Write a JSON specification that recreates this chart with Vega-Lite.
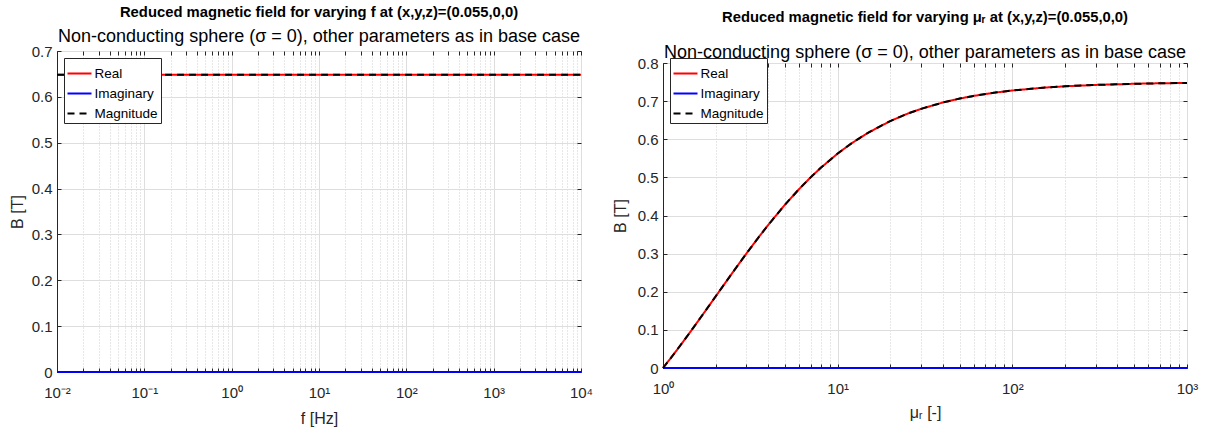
{
  "$schema": "https://vega.github.io/schema/vega-lite/v6.json",
  "padding": {"left": 8, "top": 4, "right": 5, "bottom": 2},
  "background": "white",
  "spacing": 17,
  "bounds": "full",
  "config": {
    "font": "Liberation Sans",
    "view": {"stroke": "#262626", "strokeWidth": 1},
    "axis": {
      "labelFont": "Liberation Sans", "labelFontSize": 15, "labelColor": "#262626",
      "titleFont": "Liberation Sans", "titleFontSize": 16, "titleFontWeight": "normal", "titleColor": "#262626",
      "domainColor": "#262626", "tickColor": "#262626", "gridColor": "#dedede", "gridOpacity": 1
    },
    "legend": {
      "orient": "top-left", "offset": 7, "strokeColor": "#262626", "fillColor": "white", "padding": 2.5,
      "labelFontSize": 13.5, "labelFont": "Liberation Sans", "labelColor": "#000000",
      "symbolType": "stroke", "symbolSize": 576, "symbolStrokeWidth": 2, "rowPadding": -2.5, "labelOffset": 2
    }
  },
  "datasets": {
    "fsweep": [
      {"f": 0.01, "Real": 0.648, "Imaginary": 0, "Magnitude": 0.648},
      {"f": 0.1, "Real": 0.648, "Imaginary": 0, "Magnitude": 0.648},
      {"f": 1, "Real": 0.648, "Imaginary": 0, "Magnitude": 0.648},
      {"f": 10, "Real": 0.648, "Imaginary": 0, "Magnitude": 0.648},
      {"f": 100, "Real": 0.648, "Imaginary": 0, "Magnitude": 0.648},
      {"f": 1000, "Real": 0.648, "Imaginary": 0, "Magnitude": 0.648},
      {"f": 10000, "Real": 0.648, "Imaginary": 0, "Magnitude": 0.648}
    ],
    "musweep": [
      {"mu": 1, "Real": 0, "Imaginary": 0, "Magnitude": 0},
      {"mu": 1.1, "Real": 0.0242, "Imaginary": 0, "Magnitude": 0.0242},
      {"mu": 1.2, "Real": 0.0469, "Imaginary": 0, "Magnitude": 0.0469},
      {"mu": 1.35, "Real": 0.0784, "Imaginary": 0, "Magnitude": 0.0784},
      {"mu": 1.5, "Real": 0.1071, "Imaginary": 0, "Magnitude": 0.1071},
      {"mu": 1.75, "Real": 0.15, "Imaginary": 0, "Magnitude": 0.15},
      {"mu": 2, "Real": 0.1875, "Imaginary": 0, "Magnitude": 0.1875},
      {"mu": 2.5, "Real": 0.25, "Imaginary": 0, "Magnitude": 0.25},
      {"mu": 3, "Real": 0.3, "Imaginary": 0, "Magnitude": 0.3},
      {"mu": 3.5, "Real": 0.3409, "Imaginary": 0, "Magnitude": 0.3409},
      {"mu": 4, "Real": 0.375, "Imaginary": 0, "Magnitude": 0.375},
      {"mu": 5, "Real": 0.4286, "Imaginary": 0, "Magnitude": 0.4286},
      {"mu": 6, "Real": 0.4688, "Imaginary": 0, "Magnitude": 0.4688},
      {"mu": 7, "Real": 0.5, "Imaginary": 0, "Magnitude": 0.5},
      {"mu": 8, "Real": 0.525, "Imaginary": 0, "Magnitude": 0.525},
      {"mu": 10, "Real": 0.5625, "Imaginary": 0, "Magnitude": 0.5625},
      {"mu": 12, "Real": 0.5893, "Imaginary": 0, "Magnitude": 0.5893},
      {"mu": 15, "Real": 0.6176, "Imaginary": 0, "Magnitude": 0.6176},
      {"mu": 20, "Real": 0.6477, "Imaginary": 0, "Magnitude": 0.6477},
      {"mu": 25, "Real": 0.6667, "Imaginary": 0, "Magnitude": 0.6667},
      {"mu": 30, "Real": 0.6797, "Imaginary": 0, "Magnitude": 0.6797},
      {"mu": 40, "Real": 0.6964, "Imaginary": 0, "Magnitude": 0.6964},
      {"mu": 50, "Real": 0.7067, "Imaginary": 0, "Magnitude": 0.7067},
      {"mu": 60, "Real": 0.7137, "Imaginary": 0, "Magnitude": 0.7137},
      {"mu": 80, "Real": 0.7226, "Imaginary": 0, "Magnitude": 0.7226},
      {"mu": 100, "Real": 0.7279, "Imaginary": 0, "Magnitude": 0.7279},
      {"mu": 150, "Real": 0.7352, "Imaginary": 0, "Magnitude": 0.7352},
      {"mu": 200, "Real": 0.7389, "Imaginary": 0, "Magnitude": 0.7389},
      {"mu": 300, "Real": 0.7425, "Imaginary": 0, "Magnitude": 0.7425},
      {"mu": 500, "Real": 0.7455, "Imaginary": 0, "Magnitude": 0.7455},
      {"mu": 700, "Real": 0.7468, "Imaginary": 0, "Magnitude": 0.7468},
      {"mu": 1000, "Real": 0.7478, "Imaginary": 0, "Magnitude": 0.7478}
    ]
  },
  "hconcat": [
    {
      "width": 524,
      "height": 321,
      "title": {
        "text": "Reduced magnetic field for varying f at (x,y,z)=(0.055,0,0)",
        "subtitle": "Non-conducting sphere (σ = 0), other parameters as in base case",
        "anchor": "middle", "frame": "group",
        "font": "Liberation Sans", "fontSize": 14.8, "fontWeight": "bold", "color": "#000000",
        "subtitleFont": "Liberation Sans", "subtitleFontSize": 18, "subtitleColor": "#000000",
        "subtitlePadding": 8, "offset": -2
      },
      "data": {"name": "fsweep"},
      "transform": [{"fold": ["Real", "Imaginary", "Magnitude"], "as": ["series", "B"]}],
      "layer": [
        {
          "mark": {"type": "line", "strokeWidth": 2, "clip": false},
          "encoding": {
            "x": {
              "field": "f", "type": "quantitative",
              "scale": {"type": "log", "domain": [0.01, 10000], "nice": false},
              "axis": {
                "title": "f [Hz]",
                "values": [0.01,0.02,0.03,0.04,0.05,0.06,0.07,0.08,0.09,0.1,0.2,0.3,0.4,0.5,0.6,0.7,0.8,0.9,1,2,3,4,5,6,7,8,9,10,20,30,40,50,60,70,80,90,100,200,300,400,500,600,700,800,900,1000,2000,3000,4000,5000,6000,7000,8000,9000,10000],
                "labelExpr": "abs(log(datum.value)/LN10 - round(log(datum.value)/LN10)) < 0.001 ? '10' + ['⁻²','⁻¹','⁰','¹','²','³','⁴'][round(log(datum.value)/LN10) + 2] : ''",
                "labelOverlap": false, "labelFlush": false, "labelBound": false,
                "gridDash": {"condition": {"test": "abs(log(datum.value)/LN10 - round(log(datum.value)/LN10)) < 0.001", "value": []}, "value": [1, 2]},
                "gridColor": {"condition": {"test": "abs(log(datum.value)/LN10 - round(log(datum.value)/LN10)) < 0.001", "value": "#dedede"}, "value": "#cfcfcf"},
                "tickSize": -4, "labelPadding": 17, "titlePadding": 10
              }
            },
            "y": {
              "field": "B", "type": "quantitative",
              "scale": {"domain": [0, 0.7], "nice": false},
              "axis": {"title": "B [T]", "values": [0,0.1,0.2,0.3,0.4,0.5,0.6,0.7], "format": ".1~f", "tickSize": -4, "labelPadding": 9, "titlePadding": 6}
            },
            "color": {
              "field": "series", "type": "nominal",
              "scale": {"domain": ["Real", "Imaginary", "Magnitude"], "range": ["#ff0000", "#0000ff", "#000000"]},
              "legend": {"title": null}
            },
            "strokeDash": {
              "field": "series", "type": "nominal",
              "scale": {"domain": ["Real", "Imaginary", "Magnitude"], "range": [[1, 0], [1, 0], [7, 5]]},
              "legend": {"title": null}
            }
          }
        },
        {
          "mark": {"type": "line", "opacity": 0},
          "encoding": {
            "x": {
              "field": "f", "type": "quantitative",
              "scale": {"type": "log", "domain": [0.01, 10000], "nice": false},
              "axis": {"orient": "top", "title": null, "labels": false, "grid": false, "domain": false, "tickSize": -4,
                "values": [0.01,0.02,0.03,0.04,0.05,0.06,0.07,0.08,0.09,0.1,0.2,0.3,0.4,0.5,0.6,0.7,0.8,0.9,1,2,3,4,5,6,7,8,9,10,20,30,40,50,60,70,80,90,100,200,300,400,500,600,700,800,900,1000,2000,3000,4000,5000,6000,7000,8000,9000,10000]}
            },
            "y": {
              "field": "B", "type": "quantitative",
              "scale": {"domain": [0, 0.7], "nice": false},
              "axis": {"orient": "right", "title": null, "labels": false, "grid": false, "domain": false, "tickSize": -4, "values": [0,0.1,0.2,0.3,0.4,0.5,0.6,0.7]}
            },
            "detail": {"field": "series", "type": "nominal"}
          }
        }
      ],
      "resolve": {"axis": {"x": "independent", "y": "independent"}}
    },
    {
      "vconcat": [
        {
          "width": 524,
          "height": 1,
          "view": {"stroke": null},
          "title": {
            "text": "Reduced magnetic field for varying μᵣ at (x,y,z)=(0.055,0,0)",
            "subtitle": "Non-conducting sphere (σ = 0), other parameters as in base case",
            "anchor": "middle", "frame": "group",
            "font": "Liberation Sans", "fontSize": 14.8, "fontWeight": "bold", "color": "#000000",
            "subtitleFont": "Liberation Sans", "subtitleFontSize": 18, "subtitleColor": "#000000",
            "subtitlePadding": 19, "offset": -13
          },
          "data": {"values": [{"a": 1}]},
          "mark": {"type": "point", "opacity": 0}
        },
        {
          "width": 524,
          "height": 305,
          "data": {"name": "musweep"},
          "transform": [{"fold": ["Real", "Imaginary", "Magnitude"], "as": ["series", "B"]}],
          "layer": [
            {
              "mark": {"type": "line", "strokeWidth": 2, "clip": false},
              "encoding": {
                "x": {
                  "field": "mu", "type": "quantitative",
                  "scale": {"type": "log", "domain": [1, 1000], "nice": false},
                  "axis": {
                    "title": "μᵣ [-]",
                    "values": [1,2,3,4,5,6,7,8,9,10,20,30,40,50,60,70,80,90,100,200,300,400,500,600,700,800,900,1000],
                    "labelExpr": "abs(log(datum.value)/LN10 - round(log(datum.value)/LN10)) < 0.001 ? '10' + ['⁻²','⁻¹','⁰','¹','²','³','⁴'][round(log(datum.value)/LN10) + 2] : ''",
                    "labelOverlap": false, "labelFlush": false, "labelBound": false,
                    "gridDash": {"condition": {"test": "abs(log(datum.value)/LN10 - round(log(datum.value)/LN10)) < 0.001", "value": []}, "value": [1, 2]},
                    "gridColor": {"condition": {"test": "abs(log(datum.value)/LN10 - round(log(datum.value)/LN10)) < 0.001", "value": "#dedede"}, "value": "#cfcfcf"},
                    "tickSize": -4, "labelPadding": 17, "titlePadding": 8
                  }
                },
                "y": {
                  "field": "B", "type": "quantitative",
                  "scale": {"domain": [0, 0.8], "nice": false},
                  "axis": {"title": "B [T]", "values": [0,0.1,0.2,0.3,0.4,0.5,0.6,0.7,0.8], "format": ".1~f", "tickSize": -4, "labelPadding": 9, "titlePadding": 9}
                },
                "color": {
                  "field": "series", "type": "nominal",
                  "scale": {"domain": ["Real", "Imaginary", "Magnitude"], "range": ["#ff0000", "#0000ff", "#000000"]},
                  "legend": {"title": null}
                },
                "strokeDash": {
                  "field": "series", "type": "nominal",
                  "scale": {"domain": ["Real", "Imaginary", "Magnitude"], "range": [[1, 0], [1, 0], [7, 5]]},
                  "legend": {"title": null}
                }
              }
            },
            {
              "mark": {"type": "line", "opacity": 0},
              "encoding": {
                "x": {
                  "field": "mu", "type": "quantitative",
                  "scale": {"type": "log", "domain": [1, 1000], "nice": false},
                  "axis": {"orient": "top", "title": null, "labels": false, "grid": false, "domain": false, "tickSize": -4,
                    "values": [1,2,3,4,5,6,7,8,9,10,20,30,40,50,60,70,80,90,100,200,300,400,500,600,700,800,900,1000]}
                },
                "y": {
                  "field": "B", "type": "quantitative",
                  "scale": {"domain": [0, 0.8], "nice": false},
                  "axis": {"orient": "right", "title": null, "labels": false, "grid": false, "domain": false, "tickSize": -4, "values": [0,0.1,0.2,0.3,0.4,0.5,0.6,0.7,0.8]}
                },
                "detail": {"field": "series", "type": "nominal"}
              }
            }
          ],
          "resolve": {"axis": {"x": "independent", "y": "independent"}}
        }
      ],
      "spacing": 11,
      "bounds": "flush"
    }
  ],
  "resolve": {"scale": {"color": "independent", "strokeDash": "independent"}, "legend": {"color": "independent", "strokeDash": "independent"}}
}
